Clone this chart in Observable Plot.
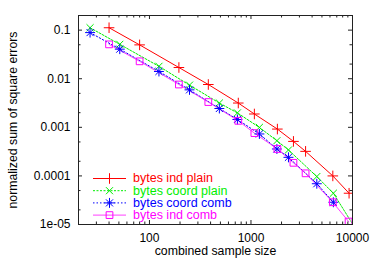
<!DOCTYPE html>
<html><head><meta charset="utf-8">
<script src="https://cdn.jsdelivr.net/npm/d3@7"></script>
<script src="https://cdn.jsdelivr.net/npm/@observablehq/plot@0.6"></script>
<style>html,body{margin:0;padding:0;background:#fff;} #chart{width:374px;height:262px;}</style>
</head><body><div id="chart"></div>
<script>
// ---- data ----
const seriesNames = ["bytes ind plain", "bytes coord plain", "bytes coord comb", "bytes ind comb"];

const indPlainX = [40, 80, 195, 380, 750, 1080, 1820, 2620, 3450, 6400, 9250];
const indPlainY = [0.112, 0.0497, 0.017, 0.0076, 0.00316, 0.00188, 0.00092, 0.000513, 0.00032, 0.0001, 0.000044];

const coordPlainX = [26, 51, 124, 248, 488, 735, 1210, 1800, 2340, 4450, 6480, 11000];
const coordPlainY = [0.112, 0.051, 0.018, 0.00738, 0.00316, 0.00198, 0.000995, 0.00053, 0.000342, 0.000097, 0.000044, 0.0000075];

const coordCombX = [26, 51, 124, 248, 488, 735, 1210, 1800, 2340, 4450, 6480];
const coordCombY = [0.089, 0.0406, 0.0141, 0.0059, 0.00244, 0.00145, 0.00073, 0.000358, 0.000241, 0.000069, 0.0000287];

const indCombX = [40, 80, 195, 380, 750, 1080, 1820, 2620, 3450, 6400, 9150];
const indCombY = [0.0509, 0.0228, 0.0076, 0.00331, 0.00136, 0.00076, 0.000358, 0.000186, 0.000113, 0.0000287, 0.0000115];

const xTickValues = [100, 1000, 10000];
const xTickLabels = ["100", "1000", "10000"];
const yTickValues = [0.00001, 0.0001, 0.001, 0.01, 0.1];
const yTickLabels = ["1e-05", "0.0001", "0.001", "0.01", "0.1"];

const xLabel = "combined sample size";
const yLabel = "normalized sum of square errors";

// ---- styling ----
const colors = ["#ff0000", "#00ee00", "#0000ff", "#ff00ff"];
const dashes = [null, "2,1.5", "1.5,2", null];
const W = 374, H = 262, mT = 15, mR = 22, mB = 38, mL = 78;
const plotW = W - mL - mR, plotH = H - mT - mB;
const font = "'Liberation Sans', Arial, Helvetica, sans-serif";

const rows = (xs, ys) => xs.map((x, i) => ({x, y: ys[i]}));
const data = [rows(indPlainX, indPlainY), rows(coordPlainX, coordPlainY), rows(coordCombX, coordCombY), rows(indCombX, indCombY)];

// minor ticks (log-scale tick positions)
const xDomain = [20, 10000], yDomain = [1e-5, 0.2];
const xMinor = [];
for (const dec of [10, 100, 1000]) for (let k = 2; k <= 9; k++) { const v = dec * k; if (v >= xDomain[0] && v <= xDomain[1]) xMinor.push(v); }
const yMinor = [];
for (const dec of [1e-5, 1e-4, 1e-3, 1e-2, 1e-1]) for (const k of [2, 5]) { const v = dec * k; if (v <= yDomain[1] * 1.0001) yMinor.push(v); }

const majLen = 4, minLen = 2.5, tickColor = "#222";
const tickMarks = [];
for (const [vals, len] of [[xTickValues, majLen], [xMinor, minLen]]) {
  tickMarks.push(Plot.tickX(vals, {x: d => d, insetTop: plotH - len, stroke: tickColor}));
  tickMarks.push(Plot.tickX(vals, {x: d => d, insetBottom: plotH - len, stroke: tickColor}));
}
for (const [vals, len] of [[yTickValues, majLen], [yMinor, minLen]]) {
  tickMarks.push(Plot.tickY(vals, {y: d => d, insetRight: plotW - len, stroke: tickColor}));
  tickMarks.push(Plot.tickY(vals, {y: d => d, insetLeft: plotW - len, stroke: tickColor}));
}

const symbolsOf = [["plus"], ["times"], ["plus", "times"], ["square"]];
const rOf = [3.5, 3.3, 3.3, 3.8];

const seriesMarks = [];
data.forEach((d, i) => {
  seriesMarks.push(Plot.line(d, {x: "x", y: "y", stroke: colors[i], strokeWidth: 1, strokeDasharray: dashes[i], strokeOpacity: i === 3 ? 0.75 : 1, clip: true}));
});
data.forEach((d, i) => {
  for (const s of symbolsOf[i]) {
    seriesMarks.push(Plot.dot(d, {x: "x", y: "y", symbol: s, r: rOf[i], stroke: colors[i], strokeWidth: 1, fill: "none", clip: true}));
  }
});

const plot = Plot.plot({
  width: W, height: H,
  marginTop: mT, marginRight: mR, marginBottom: mB, marginLeft: mL,
  style: {fontFamily: font, fontSize: "12px", background: "white", color: "black"},
  x: {type: "log", domain: xDomain},
  y: {type: "log", domain: yDomain},
  marks: [
    ...seriesMarks,
    ...tickMarks,
    Plot.frame({stroke: tickColor}),
    Plot.axisX({ticks: xTickValues, tickFormat: d => xTickLabels[xTickValues.indexOf(d)], tickSize: 0, tickPadding: 9, label: null, fontSize: 12}),
    Plot.axisY({ticks: yTickValues, tickFormat: d => yTickLabels[yTickValues.indexOf(d)], tickSize: 0, tickPadding: 8, label: null, fontSize: 12}),
    Plot.text([xLabel], {text: d => d, frameAnchor: "bottom", dy: 30, fontSize: 12.3, fill: "black", textAnchor: "middle"}),
    Plot.text([yLabel], {text: d => d, frameAnchor: "left", rotate: -90, dx: -65, fontSize: 12.3, fill: "black", textAnchor: "middle"})
  ]
});

// legend (inside plot area, lower left)
const svg = d3.select(plot);
const lg = svg.append("g").attr("font-family", font).attr("font-size", 12.5).attr("text-anchor", "start");
const symFns = {plus: d3.symbolPlus, times: d3.symbolTimes, square: d3.symbolSquare};
seriesNames.forEach((name, i) => {
  const y = 178 + i * 12.2;
  lg.append("line").attr("x1", 93).attr("x2", 126).attr("y1", y + 0.5).attr("y2", y + 0.5)
    .attr("stroke", colors[i]).attr("stroke-width", 1)
    .attr("stroke-dasharray", dashes[i]).attr("stroke-opacity", i === 3 ? 0.75 : 1);
  for (const s of symbolsOf[i]) {
    lg.append("path").attr("transform", `translate(109.5,${y + 0.5})`)
      .attr("d", d3.symbol(symFns[s], Math.PI * rOf[i] * rOf[i])())
      .attr("fill", "none").attr("stroke", colors[i]).attr("stroke-width", 1);
  }
  lg.append("text").attr("x", 133).attr("y", y + 4.4).attr("fill", colors[i]).attr("text-anchor", "start").text(name);
});

document.getElementById("chart").appendChild(plot);
</script>
</body></html>
